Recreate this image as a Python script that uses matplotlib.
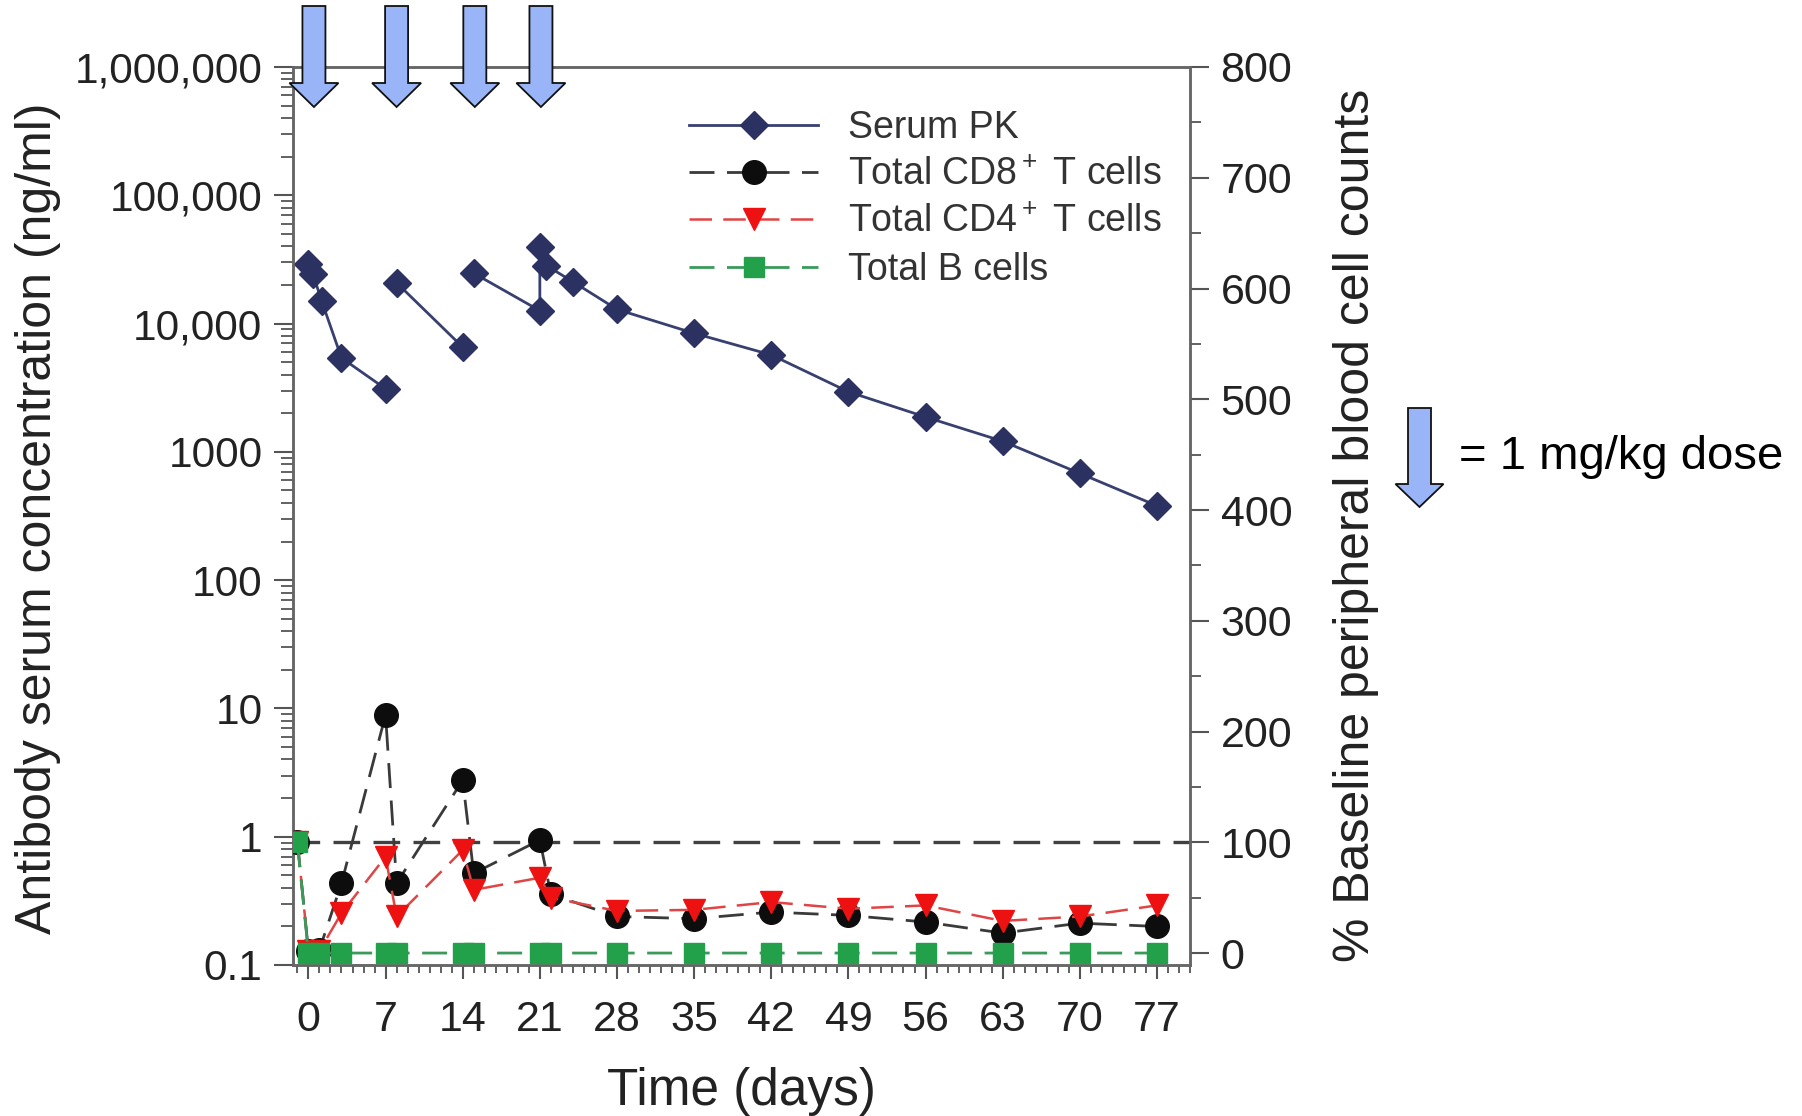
import matplotlib
matplotlib.use('Agg')
import matplotlib.pyplot as plt
import matplotlib.ticker as mticker
from matplotlib.patches import Polygon
import numpy as np

# ---------------- data ----------------
pk_days = [0, 0.4, 1.2, 3, 7, 8, 14, 15, 21, 21, 21.6, 24, 28, 35, 42, 49, 56, 63, 70, 77]
pk_conc = [29000, 24500, 15000, 5400, 3100, 20800, 6550, 24700, 12600, 39500, 28300,
           21200, 12900, 8400, 5700, 2940, 1870, 1210, 680, 380]
pk_segment = [0, 0, 0, 0, 0, 1, 1, 2, 2, 2, 2, 2, 2, 2, 2, 2, 2, 2, 2, 2]

cell_days = [-1, 0, 1, 3, 7, 8, 14, 15, 21, 22, 28, 35, 42, 49, 56, 63, 70, 77]
cd8_pct = [100, 2, 3, 63, 215, 63, 156, 72, 102, 53, 33, 31, 37, 34, 28, 18, 27, 24]
cd4_pct = [100, 2, 2, 36, 87, 33, 93, 57, 68, 50, 38, 39, 46, 40, 43, 29, 33, 43]
bcell_pct = [100, 0, 0, 0, 0, 0, 0, 0, 0, 0, 0, 0, 0, 0, 0, 0, 0, 0]

baseline_pct = 100
dose_marker_days = [0.5, 8.0, 15.1, 21.1]

x_ticks = list(range(0, 78, 7))
left_tick_values = [0.1, 1, 10, 100, 1000, 10000, 100000, 1000000]
left_tick_labels = ['0.1', '1', '10', '100', '1000', '10,000', '100,000', '1,000,000']
right_tick_values = list(range(0, 801, 100))

labels = ['Serum PK', 'Total CD8$^+$ T cells', 'Total CD4$^+$ T cells', 'Total B cells']

# ---------------- style ----------------
plt.rcParams['font.family'] = ['Liberation Sans', 'DejaVu Sans']
plt.rcParams['mathtext.fontset'] = 'custom'
plt.rcParams['mathtext.rm'] = 'Liberation Sans'
plt.rcParams['mathtext.it'] = 'Liberation Sans:italic'
plt.rcParams['mathtext.bf'] = 'Liberation Sans:bold'

W, H = 1802, 1116
fig = plt.figure(figsize=(W / 100, H / 100), dpi=100)
fig.patch.set_facecolor('white')
L, R, T, B = 293, 1190, 67, 965
ax = fig.add_axes([L / W, 1 - B / H, (R - L) / W, (B - T) / H])
ax2 = ax.twinx()

spine_col = '#666666'
tick_col = '#555555'
txt_col = '#222222'

# PK on left (log) axis
pk_color = '#2b3262'
pk_days_a = np.array(pk_days)
pk_conc_a = np.array(pk_conc)
pk_seg_a = np.array(pk_segment)
pk_handle = None
for s in sorted(set(pk_segment)):
    m = pk_seg_a == s
    ln, = ax.plot(pk_days_a[m], pk_conc_a[m], '-', color='#384070', lw=2.0,
                  marker='D', ms=14, mfc=pk_color, mec=pk_color, mew=1, zorder=3)
    if pk_handle is None:
        pk_handle = ln

ax.set_yscale('log')
ax.set_ylim(0.1, 1e6)
ax.set_xlim(-1.4, 80)
ax.yaxis.set_major_locator(mticker.FixedLocator(left_tick_values))
ax.yaxis.set_major_formatter(mticker.FixedFormatter(left_tick_labels))
ax.yaxis.set_minor_locator(mticker.LogLocator(base=10, subs=np.arange(2, 10), numticks=30))
ax.yaxis.set_minor_formatter(mticker.NullFormatter())
ax.set_xticks(x_ticks)
ax.xaxis.set_minor_locator(mticker.MultipleLocator(1))

# cells on right axis
ax2.axhline(baseline_pct, color='#404040', lw=2.4, dashes=(8, 4), zorder=1)
cd8_line, = ax2.plot(cell_days, cd8_pct, color='#3a3a3a', lw=2, dashes=(9, 4.5),
                     marker='o', ms=17, mfc='#0d0d0d', mec='#0d0d0d', zorder=3)
cd4_line, = ax2.plot(cell_days, cd4_pct, color='#e04545', lw=1.8, dashes=(9, 4.5),
                     marker='v', ms=16, mfc='#ee1111', mec='#ee1111', zorder=4)
b_line, = ax2.plot(cell_days, bcell_pct, color='#3a9a5a', lw=2, dashes=(9, 4.5),
                   marker='s', ms=15, mfc='#22a04a', mec='#22a04a', zorder=5)
ax2.set_ylim(-10.8, 800)
ax2.set_yticks(right_tick_values)
ax2.yaxis.set_minor_locator(mticker.MultipleLocator(50))

for a in (ax, ax2):
    for sp in a.spines.values():
        sp.set_color(spine_col)
        sp.set_linewidth(1.8)

ax.tick_params(axis='y', which='major', direction='out', length=14, width=1.5,
               color=tick_col, labelsize=30.5, labelcolor=txt_col, pad=8)
ax.tick_params(axis='y', which='minor', direction='out', length=9, width=1.3, color=tick_col)
ax.tick_params(axis='x', which='major', direction='out', length=10, width=1.5,
               color=tick_col, labelsize=31, labelcolor=txt_col, pad=15)
ax.tick_params(axis='x', which='minor', direction='out', length=6, width=1.3, color=tick_col)
ax2.tick_params(axis='y', which='major', direction='out', length=14, width=1.5,
                color=tick_col, labelsize=31, labelcolor=txt_col, pad=8)
ax2.tick_params(axis='y', which='minor', direction='out', length=8, width=1.3, color=tick_col)

# axis labels
fig.text(38 / W, 1 - 518 / H, 'Antibody serum concentration (ng/ml)', rotation=90,
         ha='center', va='center', fontsize=36, color=txt_col)
fig.text(1356 / W, 1 - 525 / H, '% Baseline peripheral blood cell counts', rotation=90,
         ha='center', va='center', fontsize=36, color=txt_col)
fig.text(741 / W, 1 - 1092 / H, 'Time (days)', ha='center', va='center',
         fontsize=37, color=txt_col)

# legend
leg = ax2.legend([pk_handle, cd8_line, cd4_line, b_line], labels,
                 loc='upper left', bbox_to_anchor=(689 / W, 1 - 110 / H),
                 bbox_transform=fig.transFigure, frameon=False, fontsize=27,
                 handlelength=3.44, handletextpad=0.8, labelspacing=0.3,
                 borderpad=0, borderaxespad=0, numpoints=1)
for t in leg.get_texts():
    t.set_color('#333333')

# dose arrows
arrow_fc = '#99b4f7'


def down_arrow(xc, ytop, ybase, ytip, shaft_w, head_w):
    pts = [(xc - shaft_w / 2, ytop), (xc + shaft_w / 2, ytop), (xc + shaft_w / 2, ybase),
           (xc + head_w / 2, ybase), (xc, ytip), (xc - head_w / 2, ybase),
           (xc - shaft_w / 2, ybase)]
    pts = [(px / W, 1 - py / H) for px, py in pts]
    fig.patches.append(Polygon(pts, closed=True, transform=fig.transFigure,
                               facecolor=arrow_fc, edgecolor='#111111', lw=1.3, zorder=10))


for d in dose_marker_days:
    xc = ax.transData.transform((d, 1.0))[0]
    down_arrow(xc, 6, 83, 107, 23, 49)

down_arrow(1419.5, 408, 484, 507, 23, 48)
fig.text(1459 / W, 1 - 457 / H, '= 1 mg/kg dose', ha='left', va='center',
         fontsize=34, color='black')

fig.savefig('out.png', dpi=100, facecolor='white')
